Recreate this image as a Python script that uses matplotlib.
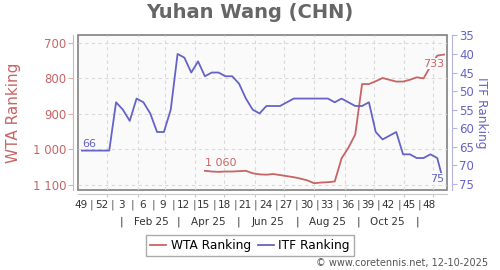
import datetime as dt
import matplotlib
matplotlib.use('Agg')
import matplotlib.pyplot as plt
import matplotlib.dates as mdates

player = 'Yuhan Wang (CHN)'
credit = '\u00a9 www.coretennis.net, 12-10-2025'

# weekly rankings, week 49/2024 .. week 50/2025 (points sit on the friday)
first_monday = dt.date(2024, 12, 2)
itf_rank = [66, 66, 66, 66, 66, 53, 55, 58, 52, 53, 56, 61, 61, 55, 40, 41, 45, 42,
            46, 45, 45, 46, 46, 48, 52, 55, 56, 54, 54, 54, 53, 52, 52, 52, 52, 52,
            52, 53, 52, 53, 54, 54, 53, 61, 63, 62, 61, 67, 67, 68, 68, 67, 68, 75]
wta_first = 18  # WTA ranking only from week 18 of the list
wta_rank = [1060, 1062, 1063, 1062, 1062, 1061, 1060, 1067, 1070, 1071, 1069, 1072,
            1075, 1078, 1082, 1087, 1095, 1093, 1092, 1090, 1025, 995, 958, 816,
            816, 808, 799, 804, 809, 809, 804, 797, 800, 766, 736, 733]
wta_ticks = [700, 800, 900, 1000, 1100]
itf_ticks = [35, 40, 45, 50, 55, 60, 65, 70, 75]

WTA_C = '#c86464'
ITF_C = '#6464c8'

dates = [first_monday + dt.timedelta(days=7 * i + 4) for i in range(len(itf_rank))]
wta_dates = dates[wta_first:]
x_all = mdates.date2num(dates)
x_wta = mdates.date2num(wta_dates)

fig = plt.figure(figsize=(5, 2.7), dpi=100)
ax = fig.add_axes([78 / 500, 80 / 270, 369 / 500, 155 / 270])
ax2 = ax.twinx()

ax.patch.set_facecolor('#fafafa')
ax.patch.set_edgecolor('#808080')
ax.patch.set_linewidth(1.2)

l1, = ax.plot(x_wta, wta_rank, color=WTA_C, lw=1.3, label='WTA Ranking')
l2, = ax2.plot(x_all, itf_rank, color=ITF_C, lw=1.3, label='ITF Ranking')

ax.set_xlim(mdates.date2num(dt.date(2024, 12, 2)), mdates.date2num(dt.date(2025, 12, 15)))
ax.set_ylim(1114, 678)
ax2.set_ylim(76.6, 34.9)

# month grid
months = [dt.date(2025, m, 1) for m in range(1, 13)]
ax.set_xticks(mdates.date2num(months))
ax.set_xticklabels([])
ax.set_yticks(wta_ticks)
ax.set_yticklabels([('{:,}'.format(v)).replace(',', ' ') for v in wta_ticks])
ax.grid(True, color='#d9d9d9', lw=0.8, ls=(0, (3, 3)))
ax.set_axisbelow(True)

for s in ['top', 'right']:
    ax.spines[s].set_visible(False)
ax2.spines['top'].set_visible(False)
ax2.spines['left'].set_visible(False)
ax2.spines['bottom'].set_visible(False)
ax.spines['left'].set_position(('outward', 3.6))
ax.spines['left'].set_color('#ddb0b0')
ax.spines['bottom'].set_position(('outward', 3))
ax.spines['bottom'].set_color('#c8c8c8')
ax2.spines['right'].set_position(('outward', 3.6))
ax2.spines['right'].set_color('#b4b4e0')

ax.tick_params(axis='y', colors='#ddb0b0', labelcolor=WTA_C, labelsize=8.5, length=3.5, pad=1.5)
ax.tick_params(axis='x', colors='#c8c8c8', length=2.5)
ax2.set_yticks(itf_ticks)
ax2.tick_params(axis='y', colors='#b4b4e0', labelcolor=ITF_C, labelsize=8.5, length=3.5, pad=1.5)

ax.set_ylabel('WTA Ranking', color=WTA_C, fontsize=11)
ax.yaxis.set_label_coords(-0.154, 0.5)
ax2.set_ylabel('ITF Ranking', color=ITF_C, fontsize=8.7, rotation=270, va='center')
ax2.yaxis.set_label_coords(1.094, 0.5)

# week numbers row and month row
tr = ax.get_xaxis_transform()
week_idx = list(range(0, len(itf_rank) - 2, 3))
for k, i in enumerate(week_idx):
    d = first_monday + dt.timedelta(days=7 * i + 3)
    ax.text(mdates.date2num(d), -0.097, str(d.isocalendar()[1]), transform=tr,
            ha='center', va='center', fontsize=7.5, color='#333333')
    if k > 0:
        dm = d - dt.timedelta(days=10.5)
        ax.text(mdates.date2num(dm), -0.097, '|', transform=tr, ha='center',
                va='center', fontsize=7.5, color='#555555')
for m in range(1, 12):
    d = dt.date(2025, m, 15)
    lab = d.strftime('%b %y') if m % 2 == 0 else '|'
    ax.text(mdates.date2num(d), -0.2045, lab, transform=tr, ha='center',
            va='center', fontsize=7.5, color='#333333')

# end labels
box = dict(facecolor='#fafafa', edgecolor='none', pad=0.5)
ax2.annotate(str(itf_rank[0]), (x_all[0], itf_rank[0]), xytext=(0, 2),
             textcoords='offset pixels', ha='left', va='bottom', fontsize=8,
             color=ITF_C, bbox=box)
ax2.annotate(str(itf_rank[-1]), (x_all[-1], itf_rank[-1]), xytext=(0, 0),
             textcoords='offset pixels', ha='right', va='bottom', fontsize=8,
             color=ITF_C, bbox=box)
ax2.annotate('{:,}'.format(wta_rank[0]).replace(',', ' '), (x_wta[0], wta_rank[0]),
             xycoords=ax.transData, xytext=(0, 3), textcoords='offset pixels',
             ha='left', va='bottom', fontsize=8, color=WTA_C, bbox=box)
ax2.annotate(str(wta_rank[-1]), (x_wta[-1], wta_rank[-1]), xycoords=ax.transData,
             xytext=(0, -4), textcoords='offset pixels', ha='right', va='top',
             fontsize=8, color=WTA_C, bbox=box)

fig.text(0.5, 1 - 13 / 270, player, ha='center', va='center', fontsize=14,
         fontweight='bold', color='#666666')
fig.legend([l1, l2], ['WTA Ranking', 'ITF Ranking'], loc='center',
           bbox_to_anchor=(250 / 500, 1 - 245.5 / 270), ncol=2, fontsize=8.7,
           frameon=True, fancybox=False, edgecolor='#aaaaaa', framealpha=1,
           handlelength=1.3, handletextpad=0.4, columnspacing=0.6, borderpad=0.3)
fig.text(488 / 500, 1 - 263 / 270, credit, ha='right', va='center', fontsize=7,
         color='#555555')

fig.savefig('out.png', dpi=100)
